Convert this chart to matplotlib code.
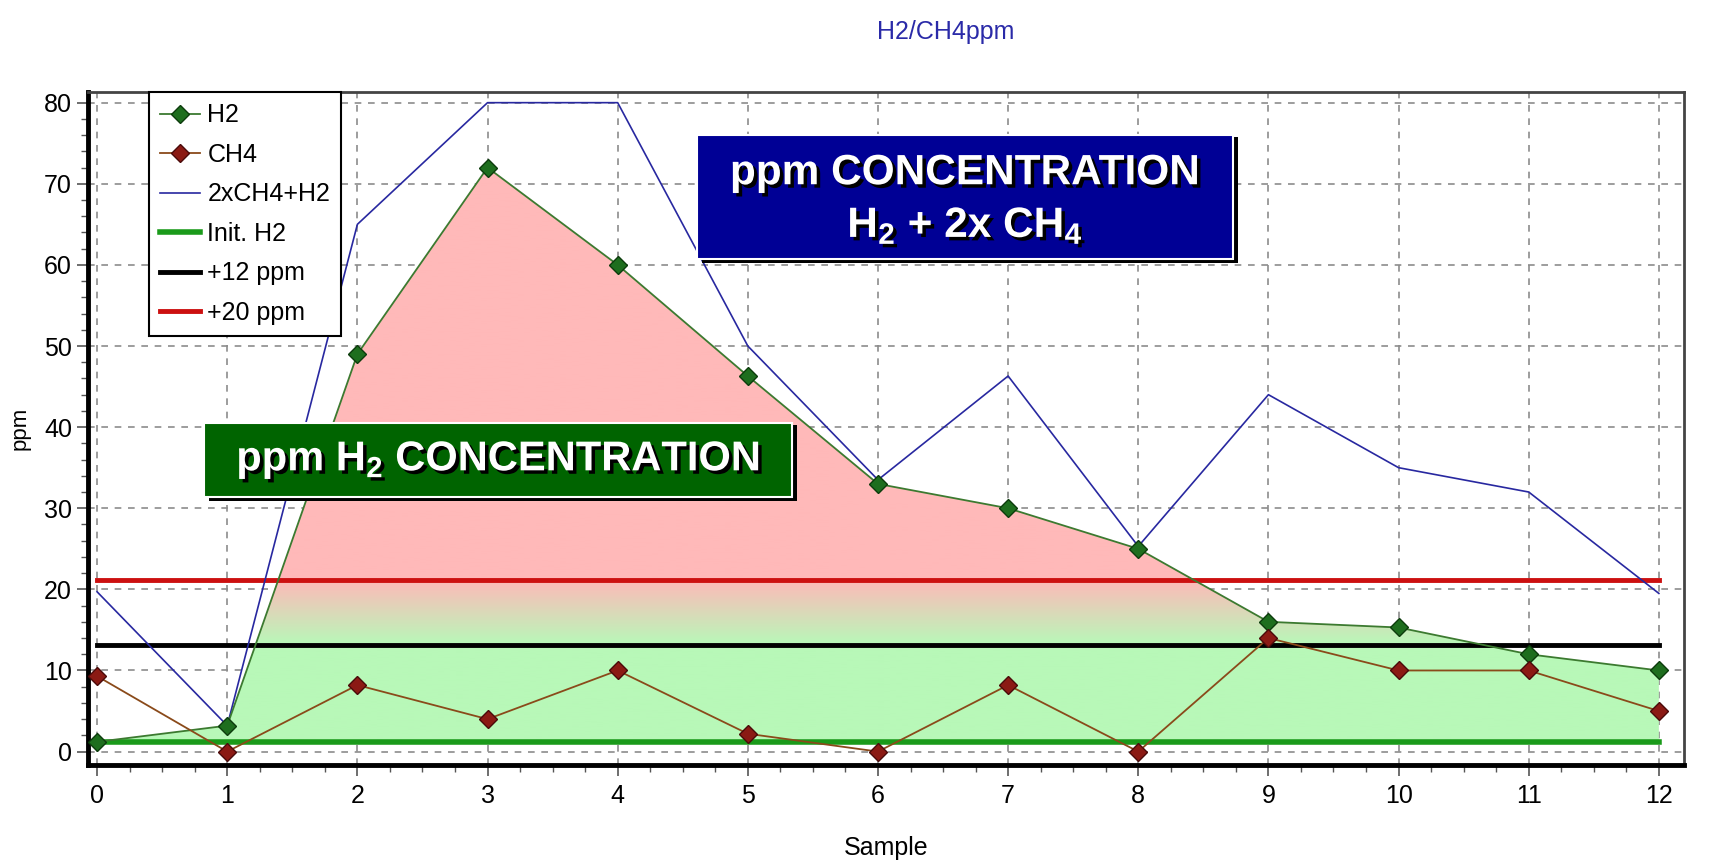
import numpy as np
import matplotlib
matplotlib.use("Agg")
import matplotlib.pyplot as plt
import matplotlib.patheffects as pe
from matplotlib.patches import Rectangle
from matplotlib.colors import to_rgb
from matplotlib.ticker import MultipleLocator

plt.rcParams['font.family'] = ['Liberation Sans', 'DejaVu Sans']
plt.rcParams['mathtext.fontset'] = 'custom'
plt.rcParams['mathtext.bf'] = 'Liberation Sans:bold'
plt.rcParams['mathtext.rm'] = 'Liberation Sans'

# data
samples = [0, 1, 2, 3, 4, 5, 6, 7, 8, 9, 10, 11, 12]
h2 = [1.2, 3.2, 49, 72, 60, 46.3, 33, 30, 25, 16, 15.3, 12, 10]
ch4 = [9.3, 0, 8.2, 4, 10, 2.2, 0, 8.2, 0, 14, 10, 10, 5]
total = [19.7, 3.2, 65, 80, 80, 50, 33.5, 46.3, 25.3, 44, 35, 32, 19.5]
init_h2 = 1.2
plus12 = 13.2
plus20 = 21.2

fig = plt.figure(figsize=(17.25, 8.61), dpi=100)
ax = fig.add_axes([0.051, 0.112, 0.925, 0.781])
ax.set_xlim(-0.07, 12.19)
ax.set_ylim(-1.6, 81.3)

x = np.array(samples, dtype=float)
y = np.array(h2, dtype=float)

# gradient fill under H2 (green low, pink high)
green = np.array(to_rgb('#b8f8b8'))
pink = np.array(to_rgb('#ffb9b9'))
ys = np.linspace(init_h2, max(h2), 400)
t = np.clip((ys - plus12) / (plus20 - plus12), 0, 1)[:, None]
grad = (green * (1 - t) + pink * t)[:, None, :]
poly = ax.fill_between(x, init_h2, y, color='none', lw=0)
im = ax.imshow(grad, extent=[x[0], x[-1], init_h2, max(h2)], origin='lower',
               aspect='auto', zorder=1)
im.set_clip_path(poly.get_paths()[0], transform=ax.transData)

ax.grid(True, ls=(0, (4, 4)), color='#8c8c8c', lw=1.2, zorder=0)
ax.set_axisbelow(True)

ax.plot(samples, [init_h2] * len(samples), color='#1a9a1a', lw=4, label='Init. H2', zorder=3)
ax.plot(samples, [plus12] * len(samples), color='black', lw=3.5, label='+12 ppm', zorder=3)
ax.plot(samples, [plus20] * len(samples), color='#cc1010', lw=3.5, label='+20 ppm', zorder=3)
ax.plot(samples, total, color='#2828a0', lw=1.2, label='2xCH4+H2', zorder=4)
ax.plot(samples, h2, color='#3c7a30', lw=1.3, marker='D', ms=9, mfc='#1e6e1e',
        mec='#0c3c0c', label='H2', zorder=5)
ax.plot(samples, ch4, color='#8a4a1a', lw=1.3, marker='D', ms=9, mfc='#8b1a14',
        mec='#4a0a0a', label='CH4', zorder=5)

ax.xaxis.set_major_locator(MultipleLocator(1))
ax.xaxis.set_minor_locator(MultipleLocator(0.25))
ax.yaxis.set_major_locator(MultipleLocator(10))
ax.yaxis.set_minor_locator(MultipleLocator(2))
ax.tick_params(which='both', direction='out', color='#555555', labelsize=18)
ax.tick_params(which='major', length=8, width=1.2)
ax.tick_params(which='minor', length=5, width=1)
ax.tick_params(axis='x', pad=6)

for side in ['left', 'bottom']:
    ax.spines[side].set_linewidth(3.5)
ax.spines['top'].set_linewidth(2)
ax.spines['top'].set_color('#444444')
ax.spines['right'].set_linewidth(2)
ax.spines['right'].set_color('#444444')

ax.set_xlabel('Sample', fontsize=18, labelpad=20)
ax.set_ylabel('ppm', fontsize=16, labelpad=10)
fig.text(0.548, 0.963, 'H2/CH4ppm', color='#2a2aa8', fontsize=18, ha='center', va='center')

handles, labels = ax.get_legend_handles_labels()
order = ['H2', 'CH4', '2xCH4+H2', 'Init. H2', '+12 ppm', '+20 ppm']
hmap = dict(zip(labels, handles))
leg = ax.legend([hmap[k] for k in order], order, loc='upper left',
                bbox_to_anchor=(0.038, 1.0), fontsize=18, labelspacing=0.62,
                handlelength=1.6, handletextpad=0.3, borderpad=0.45,
                fancybox=False, framealpha=1, edgecolor='black', borderaxespad=0)
leg.get_frame().set_linewidth(1.5)
leg.set_zorder(10)

shadow = [pe.withSimplePatchShadow(offset=(2.5, -2.5), shadow_rgbFace='black', alpha=1.0)]

# blue annotation box
ax.add_patch(Rectangle((4.65, 60.2), 4.12, 15.6, facecolor='black', edgecolor='none', zorder=11))
ax.add_patch(Rectangle((4.61, 60.7), 4.12, 15.3, facecolor='#000095', edgecolor='white',
                       lw=1.5, zorder=12))
ax.text(6.67, 71.3, 'ppm CONCENTRATION', color='white', fontsize=30.5, fontweight='bold',
        ha='center', va='center', zorder=13, path_effects=shadow)
ax.text(6.67, 64.8, r'H$_\mathbf{2}$ + 2x CH$_\mathbf{4}$', color='white', fontsize=30.5,
        fontweight='bold', ha='center', va='center', zorder=13, path_effects=shadow)

# green annotation box
ax.add_patch(Rectangle((0.86, 30.9), 4.52, 9.4, facecolor='black', edgecolor='none', zorder=11))
ax.add_patch(Rectangle((0.82, 31.4), 4.52, 9.1, facecolor='#006400', edgecolor='white',
                       lw=1.5, zorder=12))
ax.text(3.08, 35.9, r'ppm H$_\mathbf{2}$ CONCENTRATION', color='white', fontsize=30,
        fontweight='bold', ha='center', va='center', zorder=13, path_effects=shadow)

fig.savefig('out.png', dpi=100)
